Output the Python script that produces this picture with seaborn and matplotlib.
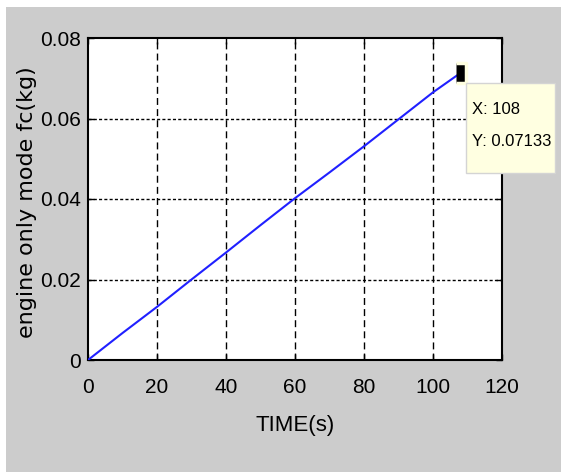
import numpy as np
import seaborn as sns
import matplotlib
matplotlib.use("Agg")
from matplotlib import pyplot as plt
from matplotlib.patches import Rectangle
from matplotlib.transforms import IdentityTransform, ScaledTranslation

# values
time_s = [0, 10, 20, 30, 40, 50, 60, 70, 80, 90, 100, 108]
fuel_kg = [0, 0.0067, 0.0132, 0.0200, 0.0267, 0.0335, 0.0402, 0.0466, 0.0531, 0.0598, 0.0665, 0.07133]
cursor_x = 108
cursor_y = 0.07133
xticks = [0, 20, 40, 60, 80, 100, 120]
yticks = [0, 0.02, 0.04, 0.06, 0.08]
ytick_labels = ['0', '0.02', '0.04', '0.06', '0.08']

sns.set_style('white')
plt.rcParams['text.color'] = 'black'
plt.rcParams['axes.labelcolor'] = 'black'
plt.rcParams['xtick.color'] = 'black'
plt.rcParams['ytick.color'] = 'black'
tickfont = ['Liberation Sans', 'DejaVu Sans']

fig = plt.figure(figsize=(5.61, 4.72), dpi=100, facecolor='white')
# grey matlab figure area with a thin white strip on top / left
fig.add_artist(Rectangle((6 / 561, 0), 1, (472 - 7) / 472, transform=fig.transFigure,
                         facecolor='#cccccc', edgecolor='none', zorder=-1))

ax = fig.add_axes([88 / 561, (472 - 360) / 472, (502 - 88) / 561, (360 - 38) / 472])
ax.set_facecolor('white')

sns.lineplot(x=time_s, y=fuel_kg, ax=ax, color='#2020ff', linewidth=1.5, zorder=3)

# data cursor: marker + datatip box, placed in pixels relative to the point
ax.plot([cursor_x], [cursor_y], marker=[(-0.55, -1), (0.55, -1), (0.55, 1), (-0.55, 1)],
        markersize=14, color='black', markeredgecolor='#ffffe1', markeredgewidth=2.5,
        zorder=5, clip_on=False)
tip = IdentityTransform() + ScaledTranslation(cursor_x, cursor_y, ax.transData)
ax.add_patch(Rectangle((5, -100), 89, 90, transform=tip, facecolor='#ffffe1',
                       edgecolor='#d4d4d4', linewidth=1, zorder=6, clip_on=False))
ax.text(11, -37, 'X: %d' % cursor_x, transform=tip, ha='left', va='center',
        fontsize=12, family=tickfont, zorder=7, clip_on=False)
ax.text(11, -69, 'Y: %s' % cursor_y, transform=tip, ha='left', va='center',
        fontsize=12, family=tickfont, zorder=7, clip_on=False)

ax.set_xlim(0, 120)
ax.set_ylim(0, 0.08)
ax.set_xticks(xticks)
ax.set_yticks(yticks)
ax.set_xticklabels([str(v) for v in xticks], family=tickfont, fontsize=15)
ax.set_yticklabels(ytick_labels, family=tickfont, fontsize=15)
ax.tick_params(direction='in', length=4, width=1, color='black', labelcolor='black',
               top=True, right=True, left=True, bottom=True)
ax.tick_params(axis='x', pad=13)
ax.tick_params(axis='y', pad=5)

for s in ax.spines.values():
    s.set_visible(True)
    s.set_color('black')
    s.set_linewidth(1.5)

# matlab style dotted grid
for v in xticks[1:-1]:
    ax.axvline(v, color='black', linewidth=1, dashes=(5, 3), zorder=1)
for v in yticks[1:-1]:
    ax.axhline(v, color='black', linewidth=1, dashes=(2.2, 1.6), zorder=1)

ax.set_xlabel('TIME(s)', family=tickfont, fontsize=16, color='black')
ax.xaxis.label.set_va('center')
ax.xaxis.set_label_coords(0.5, (360 - 425) / 322)
ax.set_ylabel('engine only mode fc(kg)', family='DejaVu Sans', fontsize=16, color='black')
ax.yaxis.label.set_va('center')
ax.yaxis.set_label_coords((27 - 88) / 414, (360 - 202) / 322)

fig.savefig('out.png', dpi=100, facecolor=fig.get_facecolor())
